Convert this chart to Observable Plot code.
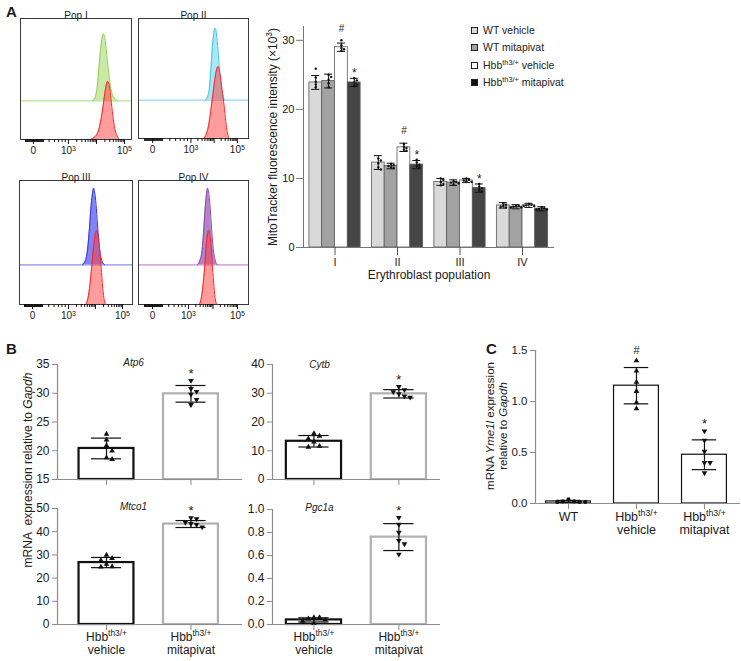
<!DOCTYPE html>
<html><head><meta charset="utf-8">
<script src="https://cdn.jsdelivr.net/npm/d3@7"></script>
<script src="https://cdn.jsdelivr.net/npm/@observablehq/plot@0.6"></script>
<style>
body{margin:0;background:#fff;}
#root{position:relative;width:741px;height:661px;overflow:hidden;background:#fff;font-family:'Liberation Sans',Arial,Helvetica,sans-serif;color:#1a1a1a;}
#root sup{font-size:0.7em;vertical-align:0.5em;line-height:0;}
</style></head><body><div id="root"></div>
<script>
// ================= DATA =================
// Panel A – flow histograms: [log10 fluorescence, count (% of mode)]
const popLabels = ["Pop I", "Pop II", "Pop III", "Pop IV"];
const histTop = [
  [[3.85,0],[3.95,4],[4.03,20],[4.09,46],[4.15,72],[4.21,88],[4.25,92],[4.30,86],[4.36,66],[4.42,44],[4.50,20],[4.60,6],[4.75,0]],
  [[3.62,0],[3.72,5],[3.80,18],[3.87,48],[3.94,80],[4.00,96],[4.04,100],[4.09,94],[4.15,76],[4.22,48],[4.30,22],[4.38,6],[4.46,0]],
  [[3.52,0],[3.62,5],[3.70,18],[3.78,50],[3.84,80],[3.90,98],[3.93,103],[3.97,98],[4.02,82],[4.08,52],[4.15,22],[4.24,5],[4.34,0]],
  [[3.36,0],[3.46,5],[3.55,18],[3.63,50],[3.69,80],[3.75,98],[3.78,103],[3.82,98],[3.88,80],[3.94,50],[4.01,22],[4.10,5],[4.18,0]]
];
const histRed = [
  [[3.80,0],[3.92,3],[4.05,10],[4.15,25],[4.22,42],[4.30,64],[4.36,77],[4.40,80],[4.45,76],[4.52,55],[4.58,34],[4.66,14],[4.76,3],[4.82,0]],
  [[3.55,0],[3.66,6],[3.76,18],[3.88,45],[3.98,70],[4.08,92],[4.17,100],[4.25,90],[4.34,68],[4.43,45],[4.50,24],[4.57,8],[4.63,0]],
  [[3.64,0],[3.72,8],[3.80,28],[3.86,50],[3.93,78],[3.99,94],[4.04,100],[4.09,94],[4.15,76],[4.21,50],[4.27,22],[4.33,5],[4.38,0]],
  [[3.44,0],[3.52,8],[3.59,25],[3.66,50],[3.72,78],[3.78,95],[3.82,100],[3.87,94],[3.93,76],[3.98,50],[4.04,24],[4.10,6],[4.16,0]]
];
const histTickLabels = ["0", "10^{3}", "10^{5}"];
const histZeroAt = [1.75, 1.35, 1.67, 1.53];
const histDomain = [[1.29,5.25],[0.74,5.48],[1.19,5.37],[0.96,5.45]];

// Panel A – MitoTracker bar chart (×10^3)
const populations = ["I", "II", "III", "IV"];
const groupNames = ["WT vehicle", "WT mitapivat", "Hbb^{th3/+} vehicle", "Hbb^{th3/+} mitapivat"];
const wtVehMean = [23.9, 12.3, 9.5, 6.1];
const wtMitMean = [24.1, 11.8, 9.4, 5.9];
const thVehMean = [29.0, 14.5, 9.7, 6.1];
const thMitMean = [23.9, 12.0, 8.6, 5.6];
const wtVehSD = [1.0, 1.0, 0.5, 0.4];
const wtMitSD = [1.0, 0.4, 0.4, 0.3];
const thVehSD = [0.6, 0.6, 0.3, 0.3];
const thMitSD = [0.6, 0.6, 0.6, 0.3];
const wtVehPts = [[25.9,24.6,24.0,23.6,23.2],[12.9,12.6,12.2,11.6,11.3],[10.0,9.8,9.5,9.2,9.0],[6.4,6.2,6.0,5.9,5.8]];
const wtMitPts = [[25.0,24.7,24.3,23.8,23.2],[12.1,11.9,11.8,11.6,11.5],[9.6,9.5,9.4,9.3,9.1],[6.0,6.0,5.9,5.8,5.8]];
const thVehPts = [[30.0,29.3,28.9,28.7,28.5],[15.0,14.6,14.4,14.2,14.0],[10.0,9.8,9.7,9.6,9.5],[6.3,6.2,6.1,6.0,6.0]];
const thMitPts = [[24.5,24.2,23.9,23.6,23.4],[12.7,12.3,12.0,11.8,11.6],[9.2,8.8,8.6,8.3,8.1],[5.8,5.7,5.6,5.5,5.5]];
const thVehSig = ["#", "#", "", ""];
const thMitSig = ["*", "*", "*", ""];

// Panel B – mRNA relative to Gapdh
const bGroups = ["Hbb^{th3/+}\nvehicle", "Hbb^{th3/+}\nmitapivat"];
const genes = ["Atp6", "Cytb", "Mtco1", "Pgc1a"];
const vehMean = [20.4, 13.3, 26.7, 0.04];
const vehSD = [1.8, 2.0, 2.2, 0.018];
const mitMean = [29.9, 29.8, 43.3, 0.76];
const mitSD = [1.45, 1.45, 1.5, 0.117];
const vehPts = [[22.9,21.9,20.9,20.0,18.8,18.5],[16.0,15.1,14.2,13.1,11.6,11.3],[29.9,28.5,27.6,26.0,25.0,24.8],[0.06,0.06,0.05,0.04,0.03,0.01]];
const mitPts = [[32.2,30.8,30.3,29.8,28.9,28.0],[32.3,31.2,30.5,29.8,29.0,28.6],[46.0,45.5,44.0,43.5,43.0,42.0],[0.93,0.87,0.80,0.73,0.70,0.61]];
const geneYDomain = [[15,35],[0,40],[0,50],[0,1]];
const geneYTicks = [[15,20,25,30,35],[0,10,20,30,40],[0,10,20,30,40,50],[0,0.2,0.4,0.6,0.8,1.0]];
const bSig = ["", "*"];

// Panel C – Yme1l
const cGroups = ["WT", "Hbb^{th3/+}\nvehicle", "Hbb^{th3/+}\nmitapivat"];
const cMean = [0.02, 1.155, 0.478];
const cSD = [0.01, 0.178, 0.146];
const cPts = [[0.015,0.04,0.015,0.02,0.015,0.02],[1.40,1.30,1.19,1.10,0.99,0.93],[0.71,0.62,0.51,0.40,0.40,0.30]];
const cSig = ["", "#", "*"];
const cYTicks = [0, 0.5, 1.0, 1.5];

// ================= HELPERS =================
const FONT = "'Liberation Sans', Arial, Helvetica, sans-serif";
const root = document.getElementById("root");
const st = (size) => ({fontFamily: FONT, fontSize: size + "px", color: "#1a1a1a", background: "none", overflow: "visible"});
const SVGNS = "http://www.w3.org/2000/svg";

function richText(node) {
  const w = document.createTreeWalker(node, NodeFilter.SHOW_TEXT);
  const targets = [];
  while (w.nextNode()) if (/[\^_]\{/.test(w.currentNode.nodeValue)) targets.push(w.currentNode);
  for (const t of targets) {
    const frag = document.createDocumentFragment();
    for (const p of t.nodeValue.split(/([\^_]\{[^}]*\})/)) {
      if (!p) continue;
      const m = p.match(/^([\^_])\{([^}]*)\}$/);
      if (m) {
        const ts = document.createElementNS(SVGNS, "tspan");
        if (m[1] === "^") { ts.setAttribute("baseline-shift", "super"); ts.setAttribute("font-size", "70%"); }
        else ts.setAttribute("font-style", "italic");
        ts.textContent = m[2];
        frag.appendChild(ts);
      } else frag.appendChild(document.createTextNode(p));
    }
    t.parentNode.replaceChild(frag, t);
  }
}
function mount(svg, left, top) {
  svg.style.position = "absolute";
  svg.style.left = left + "px";
  svg.style.top = top + "px";
  root.appendChild(svg);
  richText(svg);
}
const toHTML = s => s.replace(/\^\{([^}]*)\}/g, "<sup>$1</sup>").replace(/_\{([^}]*)\}/g, "<i>$1</i>");
function html(str, css) {
  const d = document.createElement("div");
  d.innerHTML = toHTML(str);
  d.style.cssText = "position:absolute;white-space:nowrap;" + css;
  root.appendChild(d);
  return d;
}
function vlabel(str, cx, cy, size, lh) {
  html(str, `left:${cx}px;top:${cy}px;transform:translate(-50%,-50%) rotate(-90deg);text-align:center;font-size:${size}px;line-height:${lh}px;`);
}
// simple dodge: returns x offsets (px) so markers don't overlap
function dodge(vals, yPx, size) {
  const placed = [], out = new Array(vals.length);
  vals.map((v, j) => j).sort((a, b) => vals[b] - vals[a]).forEach(j => {
    const py = vals[j] * yPx;
    for (const k of [0, 1, -1, 2, -2, 3, -3, 4, -4]) {
      const px = k * size;
      if (placed.every(([qx, qy]) => Math.abs(qx - px) >= size - 0.01 || Math.abs(qy - py) >= size)) {
        placed.push([px, py]); out[j] = px; return;
      }
    }
    out[j] = 0;
  });
  return out;
}

// ================= PANEL A: HISTOGRAMS =================
const topFill = ["#cbe9a8", "#a9e6f6", "#8383f1", "#b185c6"];
const topStroke = ["#8fd24a", "#3cc5ea", "#3434e6", "#9442b4"];
const topBase = ["#b5e38c", "#8fd7ef", "#8f8ff0", "#d28ad8"];
const histBoxes = [[20,18,131,139],[138,18,248,138],[19,180,132,304],[138,180,248,304]];
popLabels.forEach((name, i) => {
  const [bl, bt, br, bb] = histBoxes[i];
  const ml = 14, mr = 6, mt = 18, mb = 24;
  const [lo, hi] = histDomain[i];
  const z = histZeroAt[i];
  const pxPerDec = (br - bl) / (hi - lo);
  const majors = [z, 3, 5];
  const minor = [];
  for (const d of [3, 4]) for (let k = 2; k <= 9; k++) minor.push(d + Math.log10(k));
  minor.push(...[0.45, 0.6, 0.72, 0.82, 0.91].map(f => z + f * (3 - z)));
  const cluster = d3.range(-8, 11).map(p => z + p / pxPerDec);
  const OFF = 0.32, K = 0.006;
  const top = histTop[i].map(([d, c]) => ({d, c}));
  const red = histRed[i].map(([d, c]) => ({d, c}));
  const svg = Plot.plot({
    width: br - bl + ml + mr, height: bb - bt + mt + mb,
    marginLeft: ml, marginRight: mr, marginTop: mt, marginBottom: mb,
    x: {type: "linear", domain: [lo, hi]},
    y: {domain: [0, 1], axis: null},
    style: st(10),
    marks: [
      Plot.area(top, {x1: "d", y1: () => OFF, y2: d => OFF + d.c * K, fill: topFill[i], curve: "monotone-x"}),
      Plot.ruleY([OFF], {stroke: topBase[i], strokeWidth: 1.2}),
      Plot.line(top, {x: "d", y: d => OFF + d.c * K, stroke: topStroke[i], strokeWidth: 1, curve: "monotone-x"}),
      Plot.area(red, {x1: "d", y1: () => 0, y2: d => d.c * K, fill: "#ff3a3a", fillOpacity: 0.5, curve: "monotone-x"}),
      Plot.line(red, {x: "d", y: d => d.c * K, stroke: "#ff2222", strokeWidth: 1, curve: "monotone-x"}),
      Plot.frame({stroke: "#3a3a3a"}),
      Plot.axisX({ticks: cluster, tickSize: 3, tickFormat: () => "", label: null, stroke: "#111"}),
      Plot.axisX({ticks: minor, tickSize: 3, tickFormat: () => "", label: null, stroke: "#111"}),
      Plot.axisX({ticks: [4], tickSize: 5, tickFormat: () => "", label: null, stroke: "#111"}),
      Plot.axisX({ticks: majors, tickSize: 5, tickPadding: 2, tickFormat: d => histTickLabels[majors.indexOf(d)], label: null, stroke: "#111"}),
      Plot.text([name], {text: d => d, frameAnchor: "top", dy: -7, fontSize: 10})
    ]
  });
  mount(svg, bl - ml, bt - mt);
});

// ================= PANEL A: BAR CHART =================
{
  const means = [wtVehMean, wtMitMean, thVehMean, thMitMean];
  const sds = [wtVehSD, wtMitSD, thVehSD, thMitSD];
  const pts = [wtVehPts, wtMitPts, thVehPts, thMitPts];
  const sigs = [null, null, thVehSig, thMitSig];
  const fills = ["#d9d9d9", "#a2a2a2", "#ffffff", "#454545"];
  const box = [303, 26, 554, 247], left = 250, top = 0, W = 320, H = 300;
  const xDom = [-0.504, 3.512], yDom = [0, 32];
  const xPx = (box[2] - box[0]) / (xDom[1] - xDom[0]), yPx = (box[3] - box[1]) / (yDom[1] - yDom[0]);
  const BW = 0.205;
  const bars = [], caps = [], dots = [], sig = [];
  populations.forEach((p, pi) => means.forEach((m, ci) => {
    const cx = pi + (ci - 1.5) * BW, mean = m[pi], sd = sds[ci][pi];
    bars.push({cx, x1: cx - BW / 2, x2: cx + BW / 2, mean, sd, ci});
    caps.push({x1: cx - 0.064, x2: cx + 0.064, y: mean + sd}, {x1: cx - 0.064, x2: cx + 0.064, y: mean - sd});
    const vals = pts[ci][pi];
    const off = dodge(vals, yPx, 2.6);
    vals.forEach((v, j) => dots.push({x: cx + off[j] / xPx, v}));
    if (sigs[ci] && sigs[ci][pi]) sig.push({cx, y: Math.max(mean + sd, ...vals), t: sigs[ci][pi]});
  }));
  const svg = Plot.plot({
    width: W, height: H, marginLeft: box[0] - left, marginTop: box[1] - top, marginRight: left + W - box[2], marginBottom: top + H - box[3],
    x: {type: "linear", domain: xDom}, y: {domain: yDom}, color: {type: "identity"},
    style: st(11),
    marks: [
      Plot.rectY(bars, {x1: "x1", x2: "x2", y1: () => 0, y2: "mean", fill: d => fills[d.ci], stroke: "#5a5a5a", strokeWidth: 0.8}),
      Plot.ruleX(bars, {x: "cx", y1: d => d.mean - d.sd, y2: d => d.mean + d.sd, stroke: "#111", strokeWidth: 1}),
      Plot.ruleY(caps, {x1: "x1", x2: "x2", y: "y", stroke: "#111", strokeWidth: 1}),
      Plot.dot(dots, {x: "x", y: "v", r: 1.2, fill: "#111", stroke: "none"}),
      Plot.text(sig.filter(d => d.t === "#"), {x: "cx", y: "y", text: "t", dy: -12, fontSize: 10}),
      Plot.text(sig.filter(d => d.t === "*"), {x: "cx", y: "y", text: "t", dy: -5, fontSize: 12}),
      Plot.ruleY([0], {stroke: "#777", strokeWidth: 1}),
      Plot.ruleX([xDom[0]], {y1: yDom[0], y2: yDom[1], stroke: "#777", strokeWidth: 1}),
      Plot.axisY({ticks: [0, 10, 20, 30], tickSize: 7, tickPadding: 2, label: null, stroke: "#777", fontSize: 11}),
      Plot.axisX({ticks: [0, 1, 2, 3], tickSize: 8, tickPadding: 3, tickFormat: i => populations[i], label: null, stroke: "#555", fontSize: 11}),
      Plot.text(["Erythroblast population"], {text: d => d, frameAnchor: "bottom", dy: 31, fontSize: 12}),
      Plot.text(["MitoTracker fluorescence intensity (×10^{3})"], {text: d => d, frameAnchor: "left", textAnchor: "middle", rotate: -90, dx: -30, fontSize: 12})
    ]
  });
  mount(svg, left, top);

  // legend
  const lg = html("", "left:471px;top:22px;font-size:10.5px;line-height:17.3px;color:#222;");
  lg.innerHTML = groupNames.map((g, k) =>
    `<div style="display:flex;align-items:center;"><span style="display:inline-block;width:5px;height:5px;border:1px solid #222;background:${k === 3 ? "#111" : fills[k]};margin-right:5px;"></span><span>${toHTML(g)}</span></div>`
  ).join("");
}

// ================= PANELS B & C =================
function barPanel(c) {
  const [bl, bt, br, bb] = c.box;
  const [x0, x1] = c.xDomain, [y0, y1] = c.yDomain;
  const xPx = (br - bl) / (x1 - x0), yPx = (bb - bt) / (y1 - y0);
  const bars = c.means.map((m, i) => ({i, m, sd: c.sds[i]}));
  const caps = bars.flatMap(b => [{i: b.i, y: b.m + b.sd}, {i: b.i, y: b.m - b.sd}]);
  const dotMarks = c.pts.map((vals, i) => {
    const off = dodge(vals, yPx, 5.6);
    const data = vals.map((v, j) => ({x: i + off[j] / xPx, v}));
    return Plot.dot(data, {x: "x", y: "v", r: 2.1, symbol: c.symbols[i], rotate: c.rotate[i], fill: "#111", stroke: "none"});
  });
  const sig = c.sig.map((t, i) => ({i, t, y: Math.max(c.means[i] + c.sds[i], ...c.pts[i])})).filter(d => d.t);
  const svg = Plot.plot({
    width: c.width, height: c.height,
    marginLeft: bl - c.left, marginTop: bt - c.top, marginRight: c.left + c.width - br, marginBottom: c.top + c.height - bb,
    x: {type: "linear", domain: c.xDomain}, y: {domain: c.yDomain},
    style: st(c.fs),
    marks: [
      Plot.rectY(bars, {x1: d => d.i - c.barHalf, x2: d => d.i + c.barHalf, y1: () => y0, y2: "m", fill: "white", stroke: d => c.barStroke[d.i], strokeWidth: c.barSW}),
      Plot.ruleY([y0], {stroke: "#8c8c8c", strokeWidth: 1.2}),
      Plot.ruleX([x0], {y1: y0, y2: y1, stroke: "#8c8c8c", strokeWidth: 1.2}),
      Plot.ruleX(bars, {x: "i", y1: d => d.m - d.sd, y2: d => d.m + d.sd, stroke: "#111", strokeWidth: 1.2}),
      Plot.ruleY(caps, {x1: d => d.i - c.capHalf, x2: d => d.i + c.capHalf, y: "y", stroke: "#111", strokeWidth: 1.2}),
      ...dotMarks,
      Plot.text(sig.filter(d => d.t === "*"), {x: "i", y: "y", text: "t", dy: -7, fontSize: 13}),
      Plot.text(sig.filter(d => d.t === "#"), {x: "i", y: "y", text: "t", dy: -10, fontSize: 11}),
      Plot.axisY({ticks: c.yTicks, tickFormat: c.yFmt, tickSize: 5, tickPadding: 3, label: null, stroke: "#8c8c8c", fontSize: c.fs}),
      Plot.axisX({ticks: d3.range(c.means.length), tickSize: 6, tickPadding: 2, tickFormat: i => c.xLabels ? c.xLabels[i] : "", label: null, stroke: "#8c8c8c", fontSize: c.xfs || c.fs, lineHeight: 1.05}),
      ...(c.title ? [Plot.text([c.title], {text: d => d, frameAnchor: "top-left", textAnchor: "middle", dx: c.titleDx, dy: c.titleDy, fontStyle: "italic", fontSize: 10})] : [])
    ]
  });
  mount(svg, c.left, c.top);
}
const bCommon = {barHalf: 0.325, capHalf: 0.178, barStroke: ["#111", "#b0b0b0"], barSW: 2.2, symbols: ["triangle", "triangle"], rotate: [0, 180], sig: bSig, fs: 12};
const bLayout = [
  {left: 0, top: 330, width: 250, height: 160, box: [57, 364, 242, 479], xDomain: [-0.58, 1.61], titleDx: 76, titleDy: -6, xLabels: null},
  {left: 240, top: 330, width: 210, height: 160, box: [272, 364, 440, 479], xDomain: [-0.488, 1.49], titleDx: 47, titleDy: -4, xLabels: null},
  {left: 0, top: 490, width: 250, height: 171, box: [57, 508, 242, 624], xDomain: [-0.58, 1.61], titleDx: 76, titleDy: -6, xLabels: bGroups},
  {left: 240, top: 490, width: 210, height: 171, box: [272, 509, 440, 624], xDomain: [-0.488, 1.49], titleDx: 47, titleDy: -6, xLabels: bGroups}
];
genes.forEach((g, k) => barPanel({
  ...bCommon, ...bLayout[k], title: g,
  yDomain: geneYDomain[k], yTicks: geneYTicks[k], yFmt: k === 3 ? d3.format(".1f") : d3.format("d"),
  means: [vehMean[k], mitMean[k]], sds: [vehSD[k], mitSD[k]], pts: [vehPts[k], mitPts[k]]
}));
barPanel({
  left: 470, top: 330, width: 271, height: 240, box: [535, 350, 740, 503],
  xDomain: [-0.485, 2.53], yDomain: [0, 1.5], yTicks: cYTicks, yFmt: d3.format(".1f"),
  means: cMean, sds: cSD, pts: cPts, sig: cSig, xLabels: cGroups, title: null,
  barHalf: 0.33, capHalf: 0.18, barStroke: ["#111", "#111", "#111"], barSW: 1.2,
  symbols: ["circle", "triangle", "triangle"], rotate: [0, 0, 180], fs: 11.5, xfs: 12.5
});

// ================= TEXT LABELS =================
html("A", "left:6px;top:3px;font-weight:bold;font-size:15px;");
html("B", "left:6px;top:340px;font-weight:bold;font-size:15px;");
html("C", "left:486px;top:340px;font-weight:bold;font-size:15px;");
vlabel("mRNA&nbsp;&nbsp;expression relative to _{Gapdh}", 28, 470, 12, 13);
vlabel("mRNA _{Yme1l} expression<br>relative to _{Gapdh}", 497, 426, 11.5, 13);
</script></body></html>
